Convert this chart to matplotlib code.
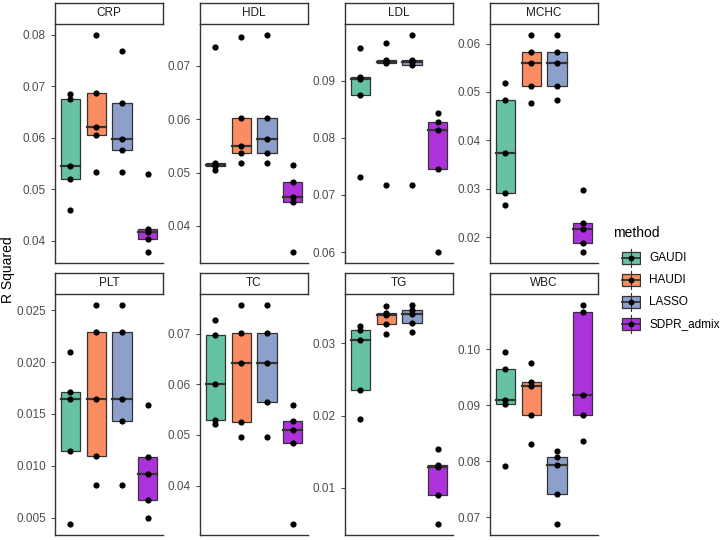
import matplotlib
matplotlib.use("Agg")
import matplotlib.pyplot as plt
from matplotlib.patches import Rectangle
import numpy as np

plt.rcParams["font.family"] = ["Liberation Sans", "DejaVu Sans"]

methods = ["GAUDI", "HAUDI", "LASSO", "SDPR_admix"]
colors = ["#66C2A5", "#FC8D62", "#8DA0CB", "#AE32DC"]

traits = ["CRP", "HDL", "LDL", "MCHC", "PLT", "TC", "TG", "WBC"]

# R squared per trait, one list of 5 values per method
crp = [[0.0685, 0.0676, 0.0546, 0.0520, 0.0460],
       [0.0800, 0.0687, 0.0622, 0.0605, 0.0534],
       [0.0768, 0.0667, 0.0598, 0.0577, 0.0534],
       [0.0529, 0.0423, 0.0417, 0.0404, 0.0378]]
hdl = [[0.0735, 0.0518, 0.0515, 0.0512, 0.0504],
       [0.0754, 0.0603, 0.0550, 0.0537, 0.0518],
       [0.0758, 0.0603, 0.0562, 0.0537, 0.0518],
       [0.0514, 0.0482, 0.0454, 0.0445, 0.0351]]
ldl = [[0.0957, 0.0907, 0.0903, 0.0874, 0.0732],
       [0.0966, 0.0936, 0.0933, 0.0930, 0.0717],
       [0.0980, 0.0936, 0.0933, 0.0927, 0.0717],
       [0.0844, 0.0827, 0.0813, 0.0746, 0.0600]]
mchc = [[0.0518, 0.0483, 0.0374, 0.0291, 0.0266],
        [0.0618, 0.0583, 0.0560, 0.0513, 0.0478],
        [0.0618, 0.0583, 0.0560, 0.0513, 0.0484],
        [0.0297, 0.0229, 0.0217, 0.0187, 0.0169]]
plt_vals = [[0.0210, 0.0171, 0.0164, 0.0114, 0.0044],
            [0.0255, 0.0229, 0.0164, 0.0110, 0.0082],
            [0.0255, 0.0229, 0.0164, 0.0143, 0.0082],
            [0.0159, 0.0109, 0.0092, 0.0067, 0.0050]]
tc = [[0.0728, 0.0698, 0.0601, 0.0530, 0.0522],
      [0.0757, 0.0702, 0.0642, 0.0526, 0.0497],
      [0.0757, 0.0702, 0.0642, 0.0565, 0.0497],
      [0.0560, 0.0527, 0.0510, 0.0484, 0.0324]]
tg = [[0.0324, 0.0318, 0.0305, 0.0236, 0.0195],
      [0.0352, 0.0342, 0.0339, 0.0326, 0.0313],
      [0.0353, 0.0346, 0.0341, 0.0328, 0.0316],
      [0.0154, 0.0132, 0.0129, 0.0090, 0.0050]]
wbc = [[0.0995, 0.0964, 0.0910, 0.0902, 0.0792],
       [0.0976, 0.0942, 0.0934, 0.0882, 0.0831],
       [0.0818, 0.0808, 0.0794, 0.0741, 0.0688],
       [0.1079, 0.1067, 0.0918, 0.0882, 0.0837]]

data = [crp, hdl, ldl, mchc, plt_vals, tc, tg, wbc]

yticks = [
    [0.04, 0.05, 0.06, 0.07, 0.08],
    [0.04, 0.05, 0.06, 0.07],
    [0.06, 0.07, 0.08, 0.09],
    [0.02, 0.03, 0.04, 0.05, 0.06],
    [0.005, 0.010, 0.015, 0.020, 0.025],
    [0.04, 0.05, 0.06, 0.07],
    [0.01, 0.02, 0.03],
    [0.07, 0.08, 0.09, 0.10],
]
ytick_fmt = ["%.2f", "%.2f", "%.2f", "%.2f", "%.3f", "%.2f", "%.2f", "%.2f"]

fig = plt.figure(figsize=(7.2, 5.4), dpi=100)
W, H = 720, 540
col_left = [55, 200, 345, 490]
pw = 108
rows = [(24, 263), (294, 535)]  # top, bottom in pixels
edge = "#333333"

for i, trait in enumerate(traits):
    r, c = divmod(i, 4)
    top, bot = rows[r]
    ax = fig.add_axes([col_left[c] / W, 1 - bot / H, pw / W, (bot - top) / H])
    vals = data[i]
    allv = np.concatenate(vals)
    for j, v in enumerate(vals):
        v = np.array(v)
        q1, med, q3 = np.percentile(v, [25, 50, 75])
        x = j + 1
        ax.add_patch(Rectangle((x - 0.375, q1), 0.75, q3 - q1, facecolor=colors[j],
                               edgecolor=edge, linewidth=0.9, zorder=2))
        ax.plot([x - 0.375, x + 0.375], [med, med], color=edge, lw=1.6, zorder=3)
        ax.scatter(np.full(len(v), x), v, s=20, color="black", zorder=4, linewidths=0)
    rng = allv.max() - allv.min()
    ax.set_ylim(allv.min() - 0.05 * rng, allv.max() + 0.05 * rng)
    ax.set_xlim(0.4, 4.6)
    ax.set_xticks([])
    ax.set_yticks(yticks[i])
    ax.set_yticklabels([ytick_fmt[i] % t for t in yticks[i]])
    ax.tick_params(axis="y", labelsize=8.5, colors="#4D4D4D", length=3, width=0.8)
    for s in ["top", "right"]:
        ax.spines[s].set_visible(False)
    for s in ["left", "bottom"]:
        ax.spines[s].set_color("#333333")
        ax.spines[s].set_linewidth(1.0)
    # strip
    sax = fig.add_axes([col_left[c] / W, 1 - top / H, pw / W, 21 / H])
    sax.set_xticks([])
    sax.set_yticks([])
    for s in sax.spines.values():
        s.set_color("#333333")
        s.set_linewidth(1.0)
    sax.text(0.5, 0.5, trait, ha="center", va="center", fontsize=8.5, color="#1A1A1A",
             transform=sax.transAxes)

fig.text(8 / W, 1 - 270 / H, "R Squared", rotation=90, ha="center", va="center",
         fontsize=10, color="black")

# legend
fig.text(613 / W, 1 - 233 / H, "method", ha="left", va="center", fontsize=10)
for j, m in enumerate(methods):
    yc = [258, 280, 302, 324][j]
    lax = fig.add_axes([621 / W, 1 - (yc + 10) / H, 20 / W, 20 / H])
    lax.set_xlim(0, 1)
    lax.set_ylim(0, 1)
    lax.axis("off")
    lax.plot([0.5, 0.5], [0.05, 0.95], color=edge, lw=0.8)
    lax.add_patch(Rectangle((0.05, 0.2), 0.9, 0.6, facecolor=colors[j],
                            edgecolor=edge, lw=0.9))
    lax.plot([0.05, 0.95], [0.5, 0.5], color=edge, lw=1.3)
    lax.scatter([0.5], [0.5], s=18, color="black", zorder=4, linewidths=0)
    fig.text(649 / W, 1 - yc / H, m, ha="left", va="center", fontsize=8.5)

fig.savefig("out.png", dpi=100)
